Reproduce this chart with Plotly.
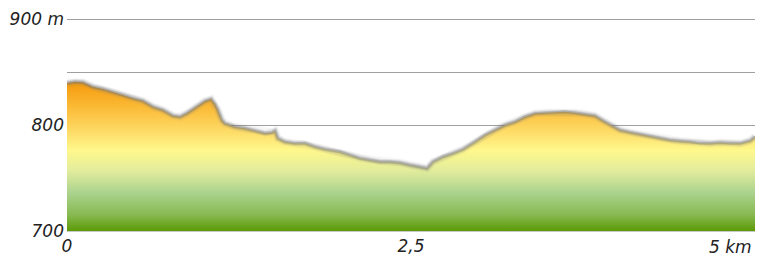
import plotly.graph_objects as go

# distance along the route (km) and elevation (m)
distance_km = [0.000, 0.058, 0.116, 0.189, 0.262, 0.334, 0.407, 0.480, 0.552, 0.625,
               0.698, 0.770, 0.821, 0.872, 0.945, 1.003, 1.047, 1.076, 1.097, 1.126,
               1.148, 1.221, 1.294, 1.366, 1.439, 1.490, 1.512, 1.533, 1.584, 1.657,
               1.730, 1.802, 1.875, 1.984, 2.057, 2.129, 2.202, 2.275, 2.347, 2.420,
               2.493, 2.565, 2.616, 2.660, 2.733, 2.805, 2.878, 2.965, 3.038, 3.110,
               3.183, 3.256, 3.328, 3.401, 3.474, 3.547, 3.619, 3.692, 3.765, 3.837,
               3.910, 3.961, 4.019, 4.092, 4.164, 4.237, 4.310, 4.382, 4.455, 4.528,
               4.600, 4.673, 4.746, 4.818, 4.891, 4.964, 5.000]
elevation_m = [839.6, 840.8, 840.3, 836.1, 834.0, 831.4, 828.3, 825.2, 822.9, 817.3,
               814.2, 808.8, 807.8, 811.3, 817.9, 822.6, 824.5, 819.8, 814.2, 804.7,
               801.6, 798.4, 796.9, 794.6, 792.2, 793.0, 794.6, 787.5, 784.2, 782.7,
               782.7, 779.5, 777.1, 774.8, 771.7, 768.6, 767.0, 765.4, 765.4, 764.4,
               762.3, 760.7, 759.2, 765.4, 770.1, 773.3, 777.1, 784.2, 790.6, 795.3,
               800.0, 803.1, 807.8, 811.0, 811.6, 812.0, 812.5, 811.6, 810.4, 808.8,
               803.1, 799.1, 795.3, 793.1, 791.2, 789.0, 787.5, 785.8, 784.9, 784.2,
               782.7, 782.7, 783.6, 782.7, 782.7, 785.2, 789.0]

y_tickvals = [700, 750, 800, 850, 900]
y_ticktext = ["700", "", "800", "", "900 m"]
x_tickvals = [0, 2.5]
x_ticktext = ["0", "2,5"]
x_end_value = 5
x_end_label = "5 km"

fig = go.Figure()

fig.add_trace(go.Scatter(
    x=distance_km, y=elevation_m, mode="lines", fill="tozeroy",
    line=dict(width=0, color="rgba(0,0,0,0)"),
    fillgradient=dict(
        type="vertical", start=700, stop=842,
        colorscale=[[0.0, "#5C9A06"], [0.106, "#86B950"], [0.254, "#ABD38F"],
                    [0.401, "#E2EC9C"], [0.535, "#FFF88C"], [0.704, "#FDD25A"],
                    [0.81, "#FBBD3A"], [0.986, "#F59A0C"], [1.0, "#F59608"]],
    ),
    hoverinfo="skip", showlegend=False,
))

for w, c in [(8, "rgba(140,140,140,0.08)"), (6, "rgba(130,130,130,0.14)"),
             (4, "rgba(120,120,120,0.22)"), (2.5, "rgba(110,110,110,0.30)")]:
    fig.add_trace(go.Scatter(
        x=distance_km, y=elevation_m, mode="lines",
        line=dict(width=w, color=c, shape="linear"),
        hoverinfo="skip", showlegend=False,
    ))

label_font = dict(family="DejaVu Sans, sans-serif", size=17,
                  color="#222222", style="italic")

fig.add_annotation(x=x_end_value, xref="x", y=0, yref="paper",
                   text=x_end_label, showarrow=False,
                   xanchor="right", yanchor="top", xshift=-1, yshift=-4,
                   font=label_font)

fig.update_layout(
    width=763, height=264,
    margin=dict(l=67, r=8, t=18, b=33, autoexpand=False),
    paper_bgcolor="white", plot_bgcolor="white",
    xaxis=dict(range=[0, 5], tickvals=x_tickvals, ticktext=x_ticktext,
               showgrid=False, zeroline=False, showline=True,
               linecolor="#c8c8c8", linewidth=1, ticks="",
               tickfont=label_font, ticklabelstandoff=0, automargin=False,
               ticklabeloverflow="allow"),
    yaxis=dict(range=[700, 901], tickvals=y_tickvals, ticktext=y_ticktext,
               showgrid=True, gridcolor="#a0a0a0", gridwidth=1,
               zeroline=False, showline=False, ticks="",
               tickfont=label_font, ticklabelstandoff=2, automargin=False,
               ticklabeloverflow="allow"),
)

fig.write_html("out.html", config={"displayModeBar": False},
               post_script="document.body.style.margin='0';"
                           "document.body.style.overflow='hidden';")
